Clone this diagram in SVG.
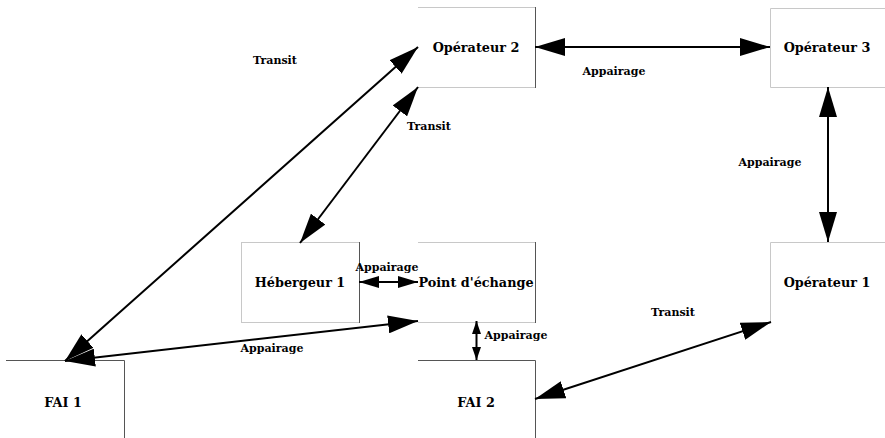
<svg xmlns="http://www.w3.org/2000/svg" width="885" height="438" viewBox="0 0 885 438">
<style>
.box{fill:none;stroke:#c8c8c8;stroke-width:1}
.edge{fill:none;stroke:#555;stroke-width:1}
.nt{font-family:"DejaVu Serif","Liberation Serif",serif;font-weight:bold;font-size:12.8px;text-anchor:middle;fill:#000}
.lt{font-family:"DejaVu Serif","Liberation Serif",serif;font-weight:bold;font-size:11px;text-anchor:middle;fill:#000}
.c{fill:none;stroke:#000;stroke-width:2}
</style>
<defs>
<marker id="big" markerUnits="userSpaceOnUse" markerWidth="30" markerHeight="18" refX="30" refY="9" orient="auto-start-reverse" viewBox="0 0 30 18"><path d="M0,0 L30,9 L0,18 z" fill="#000"/></marker>
<marker id="mid" markerUnits="userSpaceOnUse" markerWidth="20" markerHeight="12" refX="20" refY="6" orient="auto-start-reverse" viewBox="0 0 20 12"><path d="M0,0 L20,6 L0,12 z" fill="#000"/></marker>
<marker id="sm" markerUnits="userSpaceOnUse" markerWidth="13" markerHeight="9" refX="13" refY="4.5" orient="auto-start-reverse" viewBox="0 0 13 9"><path d="M0,0 L13,4.5 L0,9 z" fill="#000"/></marker>
</defs>
<g id="op2"><path class="box" d="M418,7.5 H535 M418,87.5 H535"/><path class="edge" d="M535.5,7 V88"/><text class="nt" x="476" y="52">Opérateur 2</text></g>
<g id="op3"><path class="box" d="M885,8.5 H770.5 V87.5 H885"/><text class="nt" x="827" y="52">Opérateur 3</text></g>
<g id="heb1"><rect class="box" x="241.5" y="242.5" width="118" height="80"/><path class="edge" d="M359.5,242 V323"/><text class="nt" x="300" y="287">Hébergeur 1</text></g>
<g id="pe"><path class="box" d="M418,242.5 H535 M418,322.5 H535"/><path class="edge" d="M535.5,242 V323"/><text class="nt" x="476" y="287">Point d'échange</text></g>
<g id="op1"><path class="box" d="M885,242.5 H770.5 V322"/><text class="nt" x="827" y="287">Opérateur 1</text></g>
<g id="fai1"><path class="edge" d="M6,360.5 H124.5 V438"/><text class="nt" x="63" y="407">FAI 1</text></g>
<g id="fai2"><path class="edge" d="M418,360.5 H535.5 V438"/><text class="nt" x="476" y="407">FAI 2</text></g>
<g id="connectors">
<line class="c" x1="535" y1="47" x2="770" y2="47" marker-start="url(#big)" marker-end="url(#big)"/>
<line class="c" x1="828" y1="87" x2="828" y2="242" marker-start="url(#big)" marker-end="url(#big)"/>
<line class="c" x1="418" y1="47" x2="65" y2="361" marker-start="url(#big)" marker-end="url(#big)"/>
<line class="c" x1="418" y1="87" x2="300" y2="243" marker-start="url(#big)" marker-end="url(#big)"/>
<line class="c" x1="359" y1="282" x2="418" y2="282" marker-start="url(#mid)" marker-end="url(#mid)"/>
<line class="c" x1="65" y1="361" x2="418" y2="321" marker-start="url(#big)" marker-end="url(#big)"/>
<line class="c" x1="476.5" y1="321" x2="476.5" y2="360" marker-start="url(#sm)" marker-end="url(#sm)"/>
<line class="c" x1="535" y1="399" x2="771" y2="322" marker-start="url(#big)" marker-end="url(#big)"/>
</g>
<g id="labels">
<text class="lt" x="275" y="64">Transit</text>
<text class="lt" x="614" y="75">Appairage</text>
<text class="lt" x="429" y="130">Transit</text>
<text class="lt" x="770" y="166">Appairage</text>
<text class="lt" x="387" y="271">Appairage</text>
<text class="lt" x="516" y="339">Appairage</text>
<text class="lt" x="272" y="352">Appairage</text>
<text class="lt" x="673" y="316">Transit</text>
</g>
</svg>
